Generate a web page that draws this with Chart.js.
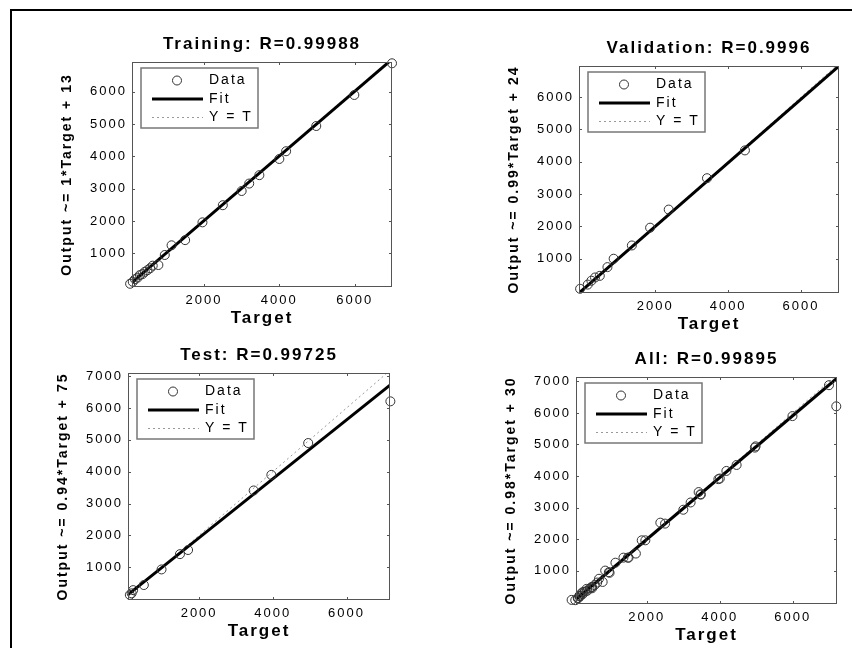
<!DOCTYPE html>
<html>
<head>
<meta charset="utf-8">
<script src="https://cdn.jsdelivr.net/npm/chart.js@4.4.1/dist/chart.umd.min.js"></script>
<style>
  html, body { margin: 0; background: #fff; }
  body { width: 852px; height: 648px; position: relative; overflow: hidden; }
  #frame { position: absolute; left: 10px; top: 9px; right: -5px; bottom: -5px;
           border-left: 2px solid #000; border-top: 2px solid #000; }
  canvas { position: absolute; }
</style>
</head>
<body>
<div id="frame"></div>
<canvas id="c1"></canvas>
<canvas id="c2"></canvas>
<canvas id="c3"></canvas>
<canvas id="c4"></canvas>
<script>
// values (target T, network output O)
const trainT = [40, 110, 170, 240, 300, 370, 430, 500, 570, 640, 790, 960, 1140, 1500, 1960, 2500, 3000, 3200, 3470, 4000, 4180, 4980, 5990, 6990];
const trainO = [60, 120, 200, 250, 330, 360, 430, 480, 540, 620, 640, 950, 1250, 1410, 1960, 2490, 2930, 3160, 3420, 3920, 4160, 4940, 5900, 6880];
const valT = [-60, 150, 250, 350, 480, 690, 860, 1360, 1860, 2370, 3420, 4460];
const valO = [70, 200, 320, 420, 470, 740, 1000, 1410, 1960, 2520, 3490, 4350];
const testT = [120, 170, 210, 500, 980, 1480, 1700, 3480, 3960, 4960, 7190];
const testO = [130, 180, 280, 440, 930, 1410, 1540, 3410, 3900, 4900, 6210];
const allT = [...trainT, ...valT, ...testT];
const allO = [...trainO, ...valO, ...testO];

// fit line end points [T, O] as drawn
const trainFit = [[90, 100], [6990, 7003]];
const valFit = [[-90, -60], [7040, 6960]];
const testFit = [[70, 140], [7180, 6720]];
const allFit = [[60, 90], [7210, 7100]];

const xTicks = [2000, 4000, 6000];
const yTicks6 = [1000, 2000, 3000, 4000, 5000, 6000];
const yTicks7 = [1000, 2000, 3000, 4000, 5000, 6000, 7000];

const FONT = '"Liberation Sans", Arial, sans-serif';
Chart.defaults.font.family = FONT;

// scanned text looks widely spaced
const spacing = {
  id: 'spacing',
  beforeLayout(c) { c.ctx.letterSpacing = '2px'; },
  beforeDraw(c) { c.ctx.letterSpacing = '2px'; }
};

// matlab style box with inward ticks
const box = {
  id: 'box',
  afterDatasetsDraw(chart) {
    const { ctx, chartArea: a, scales } = chart;
    ctx.save();
    ctx.strokeStyle = '#555';
    ctx.lineWidth = 1;
    ctx.strokeRect(a.left + 0.5, a.top + 0.5, a.width - 1, a.height - 1);
    ctx.beginPath();
    scales.x.ticks.forEach(t => {
      const px = Math.round(scales.x.getPixelForValue(t.value)) + 0.5;
      ctx.moveTo(px, a.bottom); ctx.lineTo(px, a.bottom - 3);
      ctx.moveTo(px, a.top); ctx.lineTo(px, a.top + 3);
    });
    scales.y.ticks.forEach(t => {
      const py = Math.round(scales.y.getPixelForValue(t.value)) + 0.5;
      ctx.moveTo(a.left, py); ctx.lineTo(a.left + 3, py);
      ctx.moveTo(a.right, py); ctx.lineTo(a.right - 3, py);
    });
    ctx.stroke();
    ctx.restore();
  }
};

// legend box drawn inside the axes, top left
const legendBox = {
  id: 'legendBox',
  afterDraw(chart) {
    const { ctx, chartArea: a } = chart;
    const x = a.left + 9, y = a.top + 6;
    ctx.save();
    ctx.fillStyle = '#fff';
    ctx.fillRect(x, y, 117, 60);
    ctx.strokeStyle = '#777';
    ctx.lineWidth = 1.5;
    ctx.strokeRect(x, y, 117, 60);
    ctx.font = '14px ' + FONT;
    ctx.textBaseline = 'middle';
    chart.data.datasets.forEach((ds, i) => {
      const ry = y + 12.5 + i * 18.5;
      ctx.strokeStyle = ds.borderColor;
      ctx.lineWidth = ds.borderWidth;
      ctx.setLineDash(ds.borderDash || []);
      ctx.beginPath();
      if (ds.label === 'Data') {
        ctx.arc(x + 36, ry, 4.5, 0, Math.PI * 2);
      } else {
        ctx.moveTo(x + 11, ry); ctx.lineTo(x + 62, ry);
      }
      ctx.stroke();
      ctx.setLineDash([]);
      ctx.fillStyle = '#000';
      ctx.fillText(ds.label, x + 68, ry);
    });
    ctx.restore();
  }
};

const panels = [
  { id: 'c1', title: 'Training: R=0.99988', yLabel: 'Output ~= 1*Target + 13',
    T: trainT, O: trainO, fit: trainFit, xLim: [90, 6990], yLim: [-40, 6920], yTicks: yTicks6, box: [132, 62, 392, 287] },
  { id: 'c2', title: 'Validation: R=0.9996', yLabel: 'Output ~= 0.99*Target + 24',
    T: valT, O: valO, fit: valFit, xLim: [-90, 7040], yLim: [-60, 6960], yTicks: yTicks6, box: [579, 66, 839, 293] },
  { id: 'c3', title: 'Test: R=0.99725', yLabel: 'Output ~= 0.94*Target + 75',
    T: testT, O: testO, fit: testFit, xLim: [70, 7180], yLim: [-30, 7100], yTicks: yTicks7, box: [128, 373, 390, 600] },
  { id: 'c4', title: 'All: R=0.99895', yLabel: 'Output ~= 0.98*Target + 30',
    T: allT, O: allO, fit: allFit, xLim: [60, 7210], yLim: [-60, 7140], yTicks: yTicks7, box: [576, 377, 837, 604] }
];

const padL = 120, padT = 40, padR = 15, padB = 45;

panels.forEach(p => {
  const w = p.box[2] - p.box[0], h = p.box[3] - p.box[1];
  const cv = document.getElementById(p.id);
  cv.width = w + padL + padR;
  cv.height = h + padT + padB;
  cv.style.left = (p.box[0] - padL) + 'px';
  cv.style.top = (p.box[1] - padT) + 'px';

  const lo = Math.min(p.xLim[0], p.yLim[0]);
  const hi = Math.max(p.xLim[1], p.yLim[1]);

  new Chart(cv, {
    type: 'scatter',
    data: {
      datasets: [
        { label: 'Data', data: p.T.map((t, i) => ({ x: t, y: p.O[i] })),
          pointStyle: 'circle', pointRadius: 4.5, borderColor: '#333',
          backgroundColor: 'rgba(0,0,0,0)', borderWidth: 1, order: 1, clip: false },
        { label: 'Fit', type: 'line', data: p.fit.map(d => ({ x: d[0], y: d[1] })),
          borderColor: '#000', borderWidth: 3, pointRadius: 0, order: 2 },
        { label: 'Y = T', type: 'line', data: [{ x: lo, y: lo }, { x: hi, y: hi }],
          borderColor: '#999', borderWidth: 1, borderDash: [2, 3], pointRadius: 0, order: 3 }
      ]
    },
    options: {
      responsive: false,
      animation: false,
      devicePixelRatio: 1,
      layout: { padding: { left: 0, top: 0, right: padR, bottom: 0 } },
      plugins: {
        legend: { display: false },
        tooltip: { enabled: false },
        title: { display: true, fullSize: false, text: p.title, color: '#000',
                 font: { size: 17, weight: 'bold' }, padding: { top: 11.8, bottom: 7.8 } }
      },
      scales: {
        x: {
          type: 'linear', min: p.xLim[0], max: p.xLim[1],
          grid: { display: false, drawTicks: false }, border: { display: false },
          afterBuildTicks: s => { s.ticks = xTicks.map(v => ({ value: v })); },
          afterFit: s => { s.height = padB; },
          ticks: { color: '#000', font: { size: 13 }, padding: 6, maxRotation: 0,
                   callback: v => String(v) },
          title: { display: true, text: 'Target', color: '#000',
                   font: { size: 17, weight: 'bold' }, padding: { top: 0, bottom: 3.8 } }
        },
        y: {
          type: 'linear', min: p.yLim[0], max: p.yLim[1],
          grid: { display: false, drawTicks: false }, border: { display: false },
          afterBuildTicks: s => { s.ticks = p.yTicks.map(v => ({ value: v })); },
          afterFit: s => { s.width = padL; },
          ticks: { color: '#000', font: { size: 13 }, padding: 5, callback: v => String(v) },
          title: { display: true, text: p.yLabel, color: '#000',
                   font: { size: 14, weight: 'bold' }, padding: { top: 47, bottom: 0 } }
        }
      }
    },
    plugins: [spacing, box, legendBox]
  });
});
</script>
</body>
</html>
